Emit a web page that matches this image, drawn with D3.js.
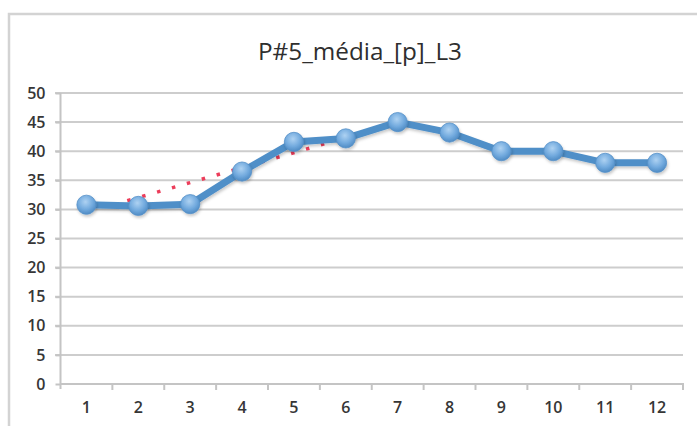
<!DOCTYPE html>
<html>
<head>
<meta charset="utf-8">
<script src="https://cdn.jsdelivr.net/npm/d3@7"></script>
<style>
  html, body { margin: 0; padding: 0; background: #ffffff; }
  svg { display: block; }
</style>
</head>
<body>
<script>
// Monthly averages, P#5 / L3
const categories = [1, 2, 3, 4, 5, 6, 7, 8, 9, 10, 11, 12];
const values = [30.8, 30.6, 30.9, 36.5, 41.6, 42.2, 45.0, 43.2, 40.0, 40.0, 38.0, 38.0];
const yTicks = [0, 5, 10, 15, 20, 25, 30, 35, 40, 45, 50];
// Trend segment (category position, value)
const trendX = [1.5, 6.4];
const trendY = [30.75, 43.35];
const title = "P#5_média_[p]_L3";

const W = 697, H = 426;
const svg = d3.select("body").append("svg").attr("width", W).attr("height", H);

const defs = svg.append("defs");
const grad = defs.append("radialGradient").attr("id", "markerFill")
  .attr("cx", "45%").attr("cy", "35%").attr("r", "65%");
grad.append("stop").attr("offset", "0%").attr("stop-color", "#aed2f2");
grad.append("stop").attr("offset", "60%").attr("stop-color", "#72aade");
grad.append("stop").attr("offset", "100%").attr("stop-color", "#4f8bc4");
const shadow = defs.append("filter").attr("id", "shadow")
  .attr("x", "-20%").attr("y", "-20%").attr("width", "140%").attr("height", "140%");
shadow.append("feDropShadow").attr("dx", 1).attr("dy", 2).attr("stdDeviation", 1.5)
  .attr("flood-color", "#000").attr("flood-opacity", 0.22);
const soft = defs.append("filter").attr("id", "soft");
soft.append("feGaussianBlur").attr("stdDeviation", 0.5);

// chart frame
svg.append("rect")
  .attr("x", 9).attr("y", 14).attr("width", 720).attr("height", 440)
  .attr("fill", "#fff").attr("stroke", "#d3d3d3").attr("stroke-width", 2.5)
  .attr("filter", "url(#soft)");

const x = d3.scaleBand().domain(categories).range([60.5, 683]).padding(0);
const y = d3.scaleLinear().domain([0, 50]).range([384, 93]);
const xc = v => x(categories[0]) + x.bandwidth() / 2 + (v - categories[0]) * x.step();

const labelFont = "'Open Sans', sans-serif";

// horizontal gridlines
const grid = svg.append("g").attr("filter", "url(#soft)");
grid.selectAll("line").data(yTicks.filter(d => d > 0)).join("line")
  .attr("x1", 55).attr("x2", 683)
  .attr("y1", d => y(d)).attr("y2", d => y(d))
  .attr("stroke", "#cdcdcd").attr("stroke-width", 2);

// y axis
const yAxis = svg.append("g").attr("transform", "translate(60.5,0)")
  .call(d3.axisLeft(y).tickValues(yTicks).tickSize(5).tickPadding(10).tickFormat(d3.format("d")));
yAxis.select(".domain").attr("stroke", "#c4c4c4").attr("stroke-width", 2)
  .attr("d", `M0,${y(50)}V${y(0) + 5}`);
yAxis.selectAll(".tick line").attr("stroke", "#c4c4c4").attr("stroke-width", 2);
yAxis.selectAll(".tick text")
  .attr("font-family", labelFont).attr("font-size", 16)
  .attr("font-weight", 600).attr("fill", "#363636");

// x axis with ticks at band boundaries
const xAxis = svg.append("g").attr("transform", `translate(0,${y(0)})`)
  .call(d3.axisBottom(x).tickSize(0).tickPadding(18));
xAxis.select(".domain").attr("stroke", "#c4c4c4").attr("stroke-width", 2)
  .attr("d", `M60.5,0H683V6`);
xAxis.selectAll(".tick text")
  .attr("font-family", labelFont).attr("font-size", 16)
  .attr("font-weight", 600).attr("fill", "#363636");
xAxis.append("g").selectAll("line").data(categories.slice(1)).join("line")
  .attr("x1", d => x(d)).attr("x2", d => x(d))
  .attr("y1", 0).attr("y2", 6)
  .attr("stroke", "#c4c4c4").attr("stroke-width", 2);

// title
svg.append("text")
  .attr("x", 360).attr("y", 60).attr("text-anchor", "middle")
  .attr("font-family", labelFont).attr("font-size", 24)
  .attr("fill", "#2e2e2e")
  .attr("textLength", 204).attr("lengthAdjust", "spacingAndGlyphs")
  .text(title);

// dotted trend segment
svg.append("path")
  .datum(trendX.map((v, i) => [v, trendY[i]]))
  .attr("d", d3.line().x(d => xc(d[0])).y(d => y(d[1])))
  .attr("fill", "none").attr("stroke", "#ec3d5a").attr("stroke-width", 3.5)
  .attr("stroke-dasharray", "3.5 12");

// series line
svg.append("path")
  .datum(values)
  .attr("d", d3.line().x((d, i) => xc(categories[i])).y(d => y(d)))
  .attr("fill", "none").attr("stroke", "#4f8fc8").attr("stroke-width", 7)
  .attr("stroke-linejoin", "round").attr("filter", "url(#shadow)");

// markers
svg.append("g").selectAll("circle").data(values).join("circle")
  .attr("cx", (d, i) => xc(categories[i])).attr("cy", d => y(d))
  .attr("r", 9.6)
  .attr("fill", "url(#markerFill)").attr("stroke", "#5690c8").attr("stroke-width", 0.8)
  .attr("filter", "url(#shadow)");
</script>
</body>
</html>
